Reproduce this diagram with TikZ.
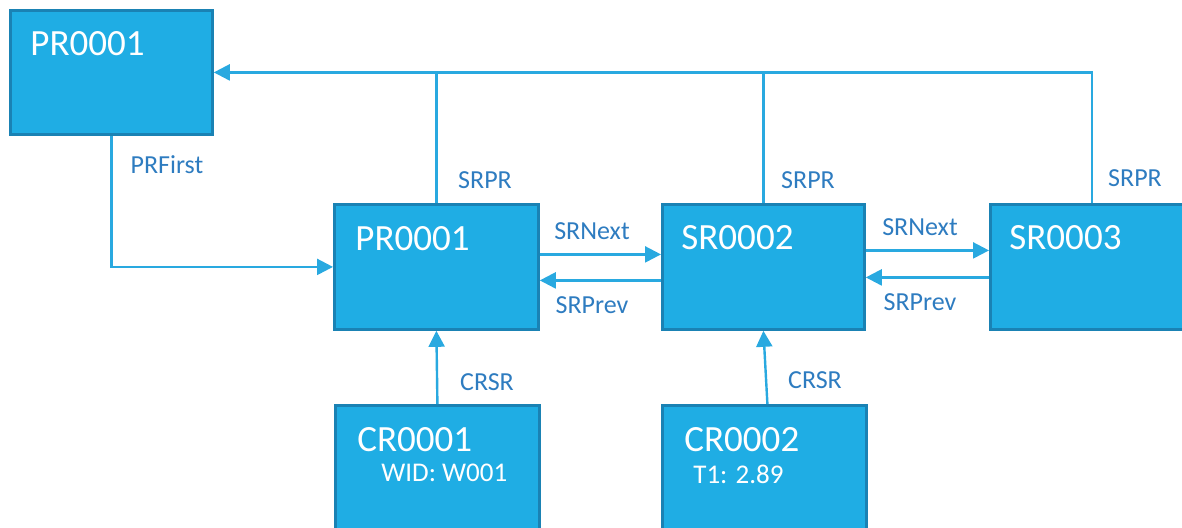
\documentclass[tikz,border=0pt]{standalone}
\usepackage{fontspec}
\setmainfont{Carlito}
\usetikzlibrary{arrows.meta,calc}
\definecolor{boxfill}{HTML}{1FADE4}
\definecolor{boxline}{HTML}{1A82B4}
\definecolor{wirec}{HTML}{29A9E0}
\definecolor{lblc}{HTML}{2E7CC0}
\begin{document}
\begin{tikzpicture}[x=0.5pt,y=-0.5pt,
  box/.style={draw=boxline, line width=1.4pt, fill=boxfill, anchor=north west, inner sep=0pt},
  ttl/.style={text=white, font=\fontsize{18.5}{22}\selectfont, anchor=base west, inner sep=0pt},
  sub/.style={text=white, font=\fontsize{13.5}{15}\selectfont, anchor=base west, inner sep=0pt},
  lb/.style={text=lblc, font=\fontsize{13}{15}\selectfont, inner sep=0pt},
  wire/.style={draw=wirec, line width=1.2pt},
  arr/.style={wire, -{Triangle[length=8pt,width=8pt]}}]
\useasboundingbox (0,0) rectangle (1182,527);
\clip (0,0) rectangle (1182,527);
% boxes
\node[box, minimum width=101pt, minimum height=62pt] (b1) at (9,9) {};
\node[box, minimum width=102pt, minimum height=62.5pt] (b2) at (333,203) {};
\node[box, minimum width=101pt, minimum height=62.5pt] (b3) at (661,203) {};
\node[box, minimum width=101.5pt, minimum height=62.5pt] (b4) at (989,203) {};
\node[box, minimum width=102pt, minimum height=64pt] (c1) at (334,404) {};
\node[box, minimum width=102pt, minimum height=64pt] (c2) at (661,404) {};
% titles
\node[ttl] (t1) at (30,55) {PR0001};
\node[ttl] (t2) at (355,250) {PR0001};
\node[ttl] (t3) at (681,249) {SR0002};
\node[ttl] (t4) at (1009,249) {SR0003};
\node[ttl] (t5) at (357,451) {CR0001};
\node[sub] (s5) at (381,481) {WID: W001};
\node[ttl] (t6) at (684,451) {CR0002};
\node[sub] (s6) at (693,483) {T1: 2.89};
% connectors
\draw[arr] (b4.north) |- (b1.east);
\draw[wire] (b2.north) -- (b2.north |- b1.east);
\draw[wire] (b3.north) -- (b3.north |- b1.east);
\draw[arr] (b1.south) |- (b2.west);
\draw[arr] ($(b2.east)+(0,-12.5)$) -- ($(b3.west)+(0,-12.5)$);
\draw[arr] ($(b3.west)+(0,13.5)$) -- ($(b2.east)+(0,13.5)$);
\draw[arr] ($(b3.east)+(0,-16.5)$) -- ($(b4.west)+(0,-16.5)$);
\draw[arr] ($(b4.west)+(0,10.5)$) -- ($(b3.east)+(0,10.5)$);
\draw[arr] (c1.north) -- (b2.south);
\draw[arr] ($(c2.north)+(3,0)$) -- (b3.south);
% labels
\node[lb] (l1) at (167,165) {PRFirst};
\node[lb] (l2) at (485,180) {SRPR};
\node[lb] (l3) at (808,180) {SRPR};
\node[lb] (l4) at (1135,178) {SRPR};
\node[lb] (l5) at (592,231) {SRNext};
\node[lb] (l6) at (592,305) {SRPrev};
\node[lb] (l7) at (920,227) {SRNext};
\node[lb] (l8) at (920,302) {SRPrev};
\node[lb] (l9) at (487,382) {CRSR};
\node[lb] (l10) at (815,380) {CRSR};
\end{tikzpicture}
\end{document}
